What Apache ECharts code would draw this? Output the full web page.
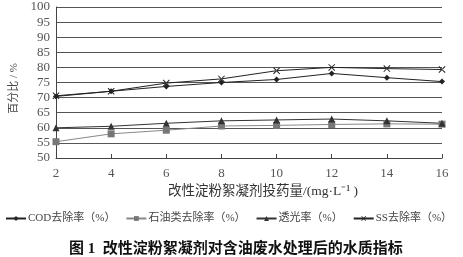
<!DOCTYPE html>
<html><head><meta charset="utf-8">
<script src="https://cdn.jsdelivr.net/npm/echarts@6/dist/echarts.min.js"></script>
<style>html,body{margin:0;padding:0;background:#fff}#c{width:463px;height:257px}</style>
</head><body><div id="c"></div>
<script>
const doses = [2, 4, 6, 8, 10, 12, 14, 16];
const cod = [70.4, 72.1, 73.7, 75.0, 76.0, 78.0, 76.6, 75.3];
const oil = [55.4, 58.0, 59.2, 60.6, 60.8, 61.1, 61.3, 61.2];
const light = [60.0, 60.5, 61.5, 62.3, 62.6, 62.9, 62.3, 61.5];
const ss = [70.6, 72.1, 74.8, 76.2, 78.9, 80.0, 79.6, 79.3];
const names = ['COD去除率（%）', '石油类去除率（%）', '透光率（%）', 'SS去除率（%）'];
const yTicks = {min: 50, max: 100, interval: 5};
const xTicks = {min: 2, max: 16, interval: 2};

const pairs = arr => doses.map((d, i) => [d, arr[i]]);
const cross = 'path://M0,0L10,10M10,0L0,10M1,0L0,1L9,10L10,9ZM9,0L10,1L1,10L0,9Z';
const serif = '"Liberation Serif","DejaVu Serif",serif';
const cjk = '"Liberation Serif","Noto Sans CJK SC",serif';

const chart = echarts.init(document.getElementById('c'), null, {renderer: 'canvas'});
chart.setOption({
  animation: false,
  backgroundColor: '#fff',
  title: {
    text: '图 1  改性淀粉絮凝剂对含油废水处理后的水质指标',
    left: 64, top: 237,
    textStyle: {fontSize: 15, fontWeight: 'bold', color: '#111', fontFamily: cjk}
  },
  legend: {
    left: 0, top: 208, itemGap: 10, itemWidth: 20, itemHeight: 6,
    textStyle: {fontSize: 11, color: '#444', fontFamily: cjk, padding: [0, 0, 0, -3]},
    data: names
  },
  grid: {left: 56, right: 21, top: 7, bottom: 99, containLabel: false},
  xAxis: {
    type: 'value', min: xTicks.min, max: xTicks.max, interval: xTicks.interval,
    name: '改性淀粉絮凝剂投药量/(mg·L⁻¹ )', nameLocation: 'middle', nameGap: 26,
    nameTextStyle: {fontSize: 13.5, color: '#333', fontFamily: cjk, padding: [0, 0, 0, 28]},
    axisLine: {show: true, lineStyle: {color: '#444', width: 1}},
    axisTick: {show: true, inside: true, length: 4, lineStyle: {color: '#444'}},
    axisLabel: {fontSize: 13, color: '#555', fontFamily: serif, margin: 9},
    splitLine: {show: false}
  },
  yAxis: {
    type: 'value', min: yTicks.min, max: yTicks.max, interval: yTicks.interval,
    name: '百分比 / %', nameLocation: 'middle', nameGap: 33, nameRotate: 90,
    nameTextStyle: {fontSize: 11, color: '#444', fontFamily: cjk, padding: [0, 12, 0, 0]},
    axisLine: {show: true, lineStyle: {color: '#444', width: 1}},
    axisTick: {show: false},
    axisLabel: {fontSize: 13, color: '#555', fontFamily: serif, margin: 6},
    splitLine: {show: true, lineStyle: {color: '#555', width: 1}}
  },
  series: [
    {name: names[0], type: 'line', data: pairs(cod), symbol: 'diamond', symbolSize: 6,
     lineStyle: {color: '#222', width: 1}, itemStyle: {color: '#222'}},
    {name: names[1], type: 'line', data: pairs(oil), symbol: 'rect', symbolSize: 7,
     lineStyle: {color: '#888', width: 1}, itemStyle: {color: '#777'}},
    {name: names[2], type: 'line', data: pairs(light), symbol: 'triangle', symbolSize: 7,
     lineStyle: {color: '#333', width: 1}, itemStyle: {color: '#333'}},
    {name: names[3], type: 'line', data: pairs(ss), symbol: cross, symbolSize: 7,
     lineStyle: {color: '#222', width: 1}, itemStyle: {color: '#222'}}
  ]
});
</script></body></html>
